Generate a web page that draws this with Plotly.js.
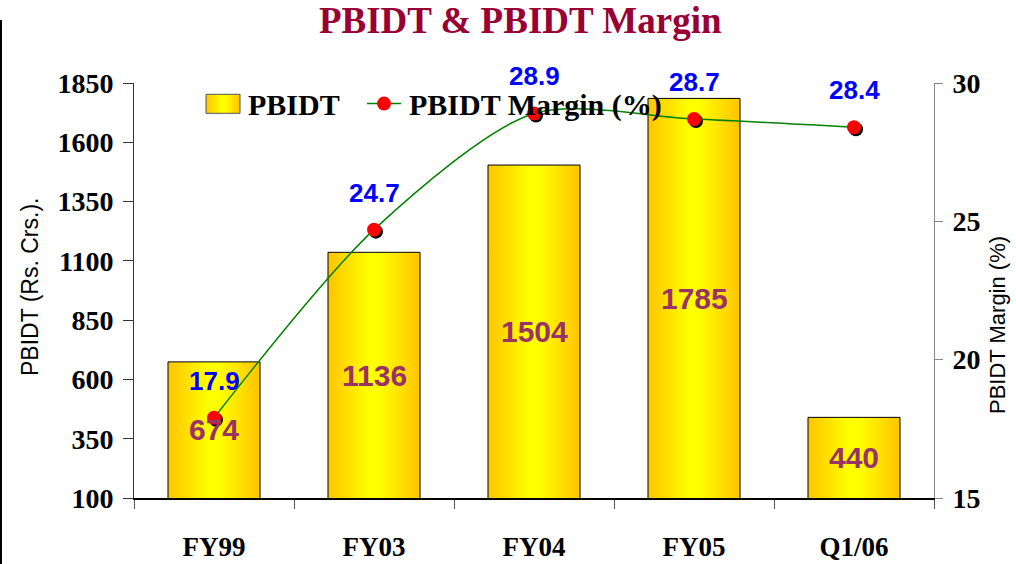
<!DOCTYPE html>
<html>
<head>
<meta charset="utf-8">
<script src="https://cdn.plot.ly/plotly-3.0.1.min.js"></script>
<style>
html,body{margin:0;padding:0;background:#fff;}
#chart{width:1016px;height:564px;}
</style>
</head>
<body>
<div id="chart"></div>
<script>
const categories = ["FY99", "FY03", "FY04", "FY05", "Q1/06"];
const pbidt = [674, 1136, 1504, 1785, 440];
const margin = [17.9, 24.7, 28.9, 28.7, 28.4];
const leftTicks = [100, 350, 600, 850, 1100, 1350, 1600, 1850];
const rightTicks = [15, 20, 25, 30];

const serif = "Liberation Serif, Times New Roman, serif";
const sans = "Liberation Sans, Arial, sans-serif";
const yMin = 100, yMax = 1850;

const traces = [
  {
    type: "bar", name: "PBIDT", x: categories, y: pbidt,
    marker: {color: "#FFE000", line: {color: "#000", width: 1}},
    hoverinfo: "skip"
  },
  {
    type: "scatter", mode: "markers", x: categories, y: margin, yaxis: "y2",
    marker: {color: "#000", size: 14}, showlegend: false, hoverinfo: "skip"
  },
  {
    type: "scatter", mode: "lines+markers", name: "PBIDT Margin (%)",
    x: categories, y: margin, yaxis: "y2",
    line: {color: "#008000", width: 1.5, shape: "spline", smoothing: 0.8},
    marker: {color: "#FF0000", size: 14}, hoverinfo: "skip"
  }
];

// blue margin labels above the markers
const annotations = categories.map((c, i) => ({
  x: c, y: margin[i], xref: "x", yref: "y2", text: margin[i].toFixed(1),
  showarrow: false, yshift: 37,
  font: {family: sans, size: 26, color: "#0000FF", weight: "bold"}
}));
// purple PBIDT labels centred in the visible part of each bar
categories.forEach((c, i) => {
  annotations.push({
    x: c, y: (Math.max(pbidt[i], yMin) + yMin) / 2, xref: "x", yref: "y",
    text: String(pbidt[i]), showarrow: false,
    font: {family: sans, size: 30, color: "#993366", weight: "bold"}
  });
});
annotations.push({
  text: "PBIDT (Rs. Crs.).", xref: "paper", yref: "paper",
  x: (30 - 134) / 800, y: (498 - 287) / 415, textangle: -90, showarrow: false,
  xanchor: "center", yanchor: "middle",
  font: {family: sans, size: 23, color: "#000"}
});
annotations.push({
  text: "PBIDT Margin (%)", xref: "paper", yref: "paper",
  x: (997 - 134) / 800, y: (498 - 325) / 415, textangle: -90, showarrow: false,
  xanchor: "center", yanchor: "middle",
  font: {family: sans, size: 22, color: "#000"}
});

const layout = {
  width: 1016, height: 564,
  margin: {l: 134, r: 82, t: 83, b: 66},
  paper_bgcolor: "#fff", plot_bgcolor: "rgba(0,0,0,0)",
  title: {
    text: "PBIDT & PBIDT Margin", x: 0.512, y: 1 - 20 / 564,
    xanchor: "center", yanchor: "middle", xref: "container", yref: "container",
    font: {family: serif, size: 37, color: "#990033", weight: "bold"}
  },
  bargap: 0.425,
  showlegend: true,
  legend: {
    orientation: "h", x: 0.0675, y: 1.013, xanchor: "left", yanchor: "top",
    bgcolor: "rgba(0,0,0,0)", itemwidth: 50,
    font: {family: serif, size: 30, color: "#000", weight: "bold"},
    traceorder: "normal"
  },
  xaxis: {
    type: "category", tickson: "boundaries", ticks: "outside", ticklen: 9,
    tickcolor: "#555", showline: true, linecolor: "#000", linewidth: 1.5,
    showgrid: false, zeroline: false, ticklabelstandoff: 24,
    tickfont: {family: serif, size: 27, color: "#000", weight: "bold"}
  },
  yaxis: {
    range: [yMin, yMax], tickvals: leftTicks, ticks: "outside", ticklen: 10,
    tickcolor: "#333", showline: true, linecolor: "#333", linewidth: 1,
    showgrid: false, zeroline: false, ticklabelstandoff: 4,
    tickfont: {family: serif, size: 28, color: "#000", weight: "bold"}
  },
  yaxis2: {
    range: [15, 30], tickvals: rightTicks, overlaying: "y", side: "right",
    ticks: "outside", ticklen: 8, tickcolor: "#888", showline: true,
    linecolor: "#888", linewidth: 1, showgrid: false, zeroline: false,
    ticklabelstandoff: 4,
    tickfont: {family: serif, size: 28, color: "#000", weight: "bold"}
  },
  annotations: annotations,
  shapes: [{
    type: "line", xref: "paper", yref: "paper",
    x0: (1 - 134) / 800, x1: (1 - 134) / 800,
    y0: (498 - 566) / 415, y1: (498 - 20) / 415,
    line: {color: "#000", width: 2}
  }]
};

function decorate() {
  const gd = document.getElementById("chart");
  const svg = gd.querySelector(".main-svg");
  let defs = svg.querySelector("defs");
  if (!svg.querySelector("#barGrad")) {
    const ns = "http://www.w3.org/2000/svg";
    const g = document.createElementNS(ns, "linearGradient");
    g.setAttribute("id", "barGrad");
    g.setAttribute("x1", "0"); g.setAttribute("x2", "1");
    g.setAttribute("y1", "0"); g.setAttribute("y2", "0");
    [["0%", "#FFC400"], ["45%", "#FFFF00"], ["55%", "#FFFF00"], ["100%", "#FFC400"]].forEach(s => {
      const st = document.createElementNS(ns, "stop");
      st.setAttribute("offset", s[0]); st.setAttribute("stop-color", s[1]);
      g.appendChild(st);
    });
    defs.appendChild(g);
  }
  gd.querySelectorAll(".barlayer .bars path").forEach(p => { p.style.fill = "url(#barGrad)"; });

  const legTraces = gd.querySelectorAll(".legend .traces");
  let t0left = null;
  // bar swatch: a 34x19 box ending 8px left of its text
  if (legTraces.length > 0) {
    const t0 = legTraces[0].querySelector("text.legendtext");
    const p0 = legTraces[0].querySelector(".legendpoints path");
    if (t0 && p0) {
      p0.removeAttribute("transform");
      const tb = t0.getBoundingClientRect();
      t0left = tb.left;
      const m = p0.getScreenCTM();
      const cy = tb.top + tb.height / 2 - 1;
      const x1 = tb.left - 8 - m.e, x0 = x1 - 34;
      const y0 = cy - 9.5 - m.f, y1 = cy + 9.5 - m.f;
      p0.setAttribute("d", `M${x0},${y0}H${x1}V${y1}H${x0}Z`);
      p0.style.fill = "url(#barGrad)";
      p0.style.stroke = "#555";
      p0.style.strokeWidth = "1px";
    }
  }
  // second item: text 161px after first text start; 34px line with marker before it
  if (legTraces.length > 1) {
    const t1 = legTraces[1].querySelector("text.legendtext");
    const lay = legTraces[1].querySelector(".layers");
    if (t1 && lay) {
      t1.removeAttribute("transform");
      lay.removeAttribute("transform");
      let tb = t1.getBoundingClientRect();
      if (t0left !== null) {
        const dt = (t0left + 161) - tb.left;
        t1.setAttribute("transform", `translate(${dt},0)`);
        tb = t1.getBoundingClientRect();
      }
      const mk = lay.querySelector(".legendpoints path");
      const ln = lay.querySelector(".legendlines path");
      if (mk) {
        const mb = mk.getBoundingClientRect();
        const mcx = (mb.left + mb.right) / 2;
        const dx = (tb.left - 25) - mcx;
        lay.setAttribute("transform", `translate(${dx},0)`);
        if (ln) {
          const m = ln.getScreenCTM();
          const nb = mk.getBoundingClientRect();
          const cx = (nb.left + nb.right) / 2 - m.e;
          const cy = (nb.top + nb.bottom) / 2 - m.f;
          ln.setAttribute("d", `M${cx - 17},${cy}H${cx + 17}`);
        }
      }
    }
  }
  const sc = gd.querySelectorAll(".scatterlayer .trace");
  if (sc.length) {
    const pts = sc[0].querySelector(".points");
    if (pts) pts.setAttribute("transform", "translate(2,2)");
  }
}

Plotly.newPlot("chart", traces, layout, {staticPlot: true}).then(gd => {
  decorate();
  gd.on("plotly_afterplot", decorate);
});
</script>
</body>
</html>
